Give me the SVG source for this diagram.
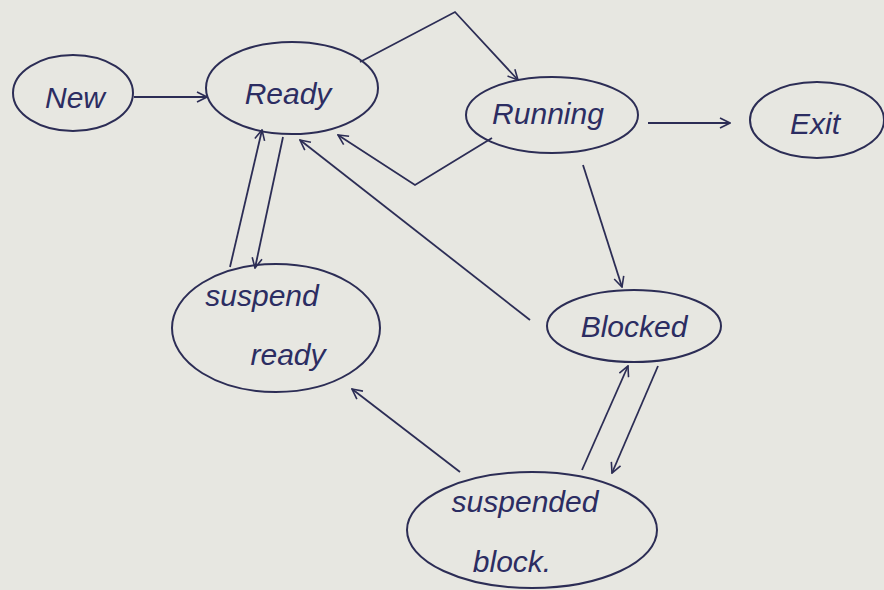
<svg xmlns="http://www.w3.org/2000/svg" width="884" height="590" viewBox="0 0 884 590">
<style>
.n ellipse{fill:none;stroke:#2c2d55;stroke-width:2}
.n text{font-family:"Liberation Sans",Arial,sans-serif;font-size:30px;fill:#2c2d62;text-anchor:middle;font-style:italic}
#edges path,#edges line,#edges polyline{fill:none;stroke:#2c2d55;stroke-width:1.8;marker-end:url(#ah)}
</style>
<defs>
<marker id="ah" viewBox="0 0 12 12" refX="11" refY="6" markerWidth="12" markerHeight="12" markerUnits="userSpaceOnUse" orient="auto">
<path d="M1,1 L11,6 L1,11" fill="none" stroke="#2c2d55" stroke-width="1.6"/>
</marker>
</defs>
<rect width="884" height="590" fill="#e7e7e1"/>
<g id="edges">
<line x1="134" y1="97" x2="207" y2="97"/>
<polyline points="360,62 455,12 518,80"/>
<polyline points="492,138 415,185 338,135"/>
<line x1="648" y1="123" x2="730" y2="123"/>
<line x1="583" y1="165" x2="622" y2="287"/>
<line x1="530" y1="320" x2="300" y2="140"/>
<line x1="283" y1="137" x2="255" y2="268"/>
<line x1="230" y1="267" x2="262" y2="130"/>
<line x1="658" y1="366" x2="612" y2="473"/>
<line x1="582" y1="470" x2="628" y2="366"/>
<line x1="460" y1="472" x2="352" y2="389"/>
</g>
<g id="new" class="n"><ellipse cx="73" cy="93" rx="60" ry="38"/><text x="75" y="108">New</text></g>
<g id="ready" class="n"><ellipse cx="292" cy="88" rx="86" ry="46"/><text x="288" y="104">Ready</text></g>
<g id="running" class="n"><ellipse cx="552" cy="115" rx="86" ry="38"/><text x="548" y="124">Running</text></g>
<g id="exit" class="n"><ellipse cx="817" cy="120" rx="67" ry="38"/><text x="815" y="134">Exit</text></g>
<g id="suspend-ready" class="n"><ellipse cx="276" cy="328" rx="104" ry="64"/><text x="262" y="306">suspend</text><text x="288" y="365">ready</text></g>
<g id="blocked" class="n"><ellipse cx="634" cy="326" rx="87" ry="36"/><text x="634" y="337">Blocked</text></g>
<g id="suspended-block" class="n"><ellipse cx="532" cy="530" rx="125" ry="58"/><text x="525" y="512">suspended</text><text x="512" y="572">block.</text></g>
</svg>
